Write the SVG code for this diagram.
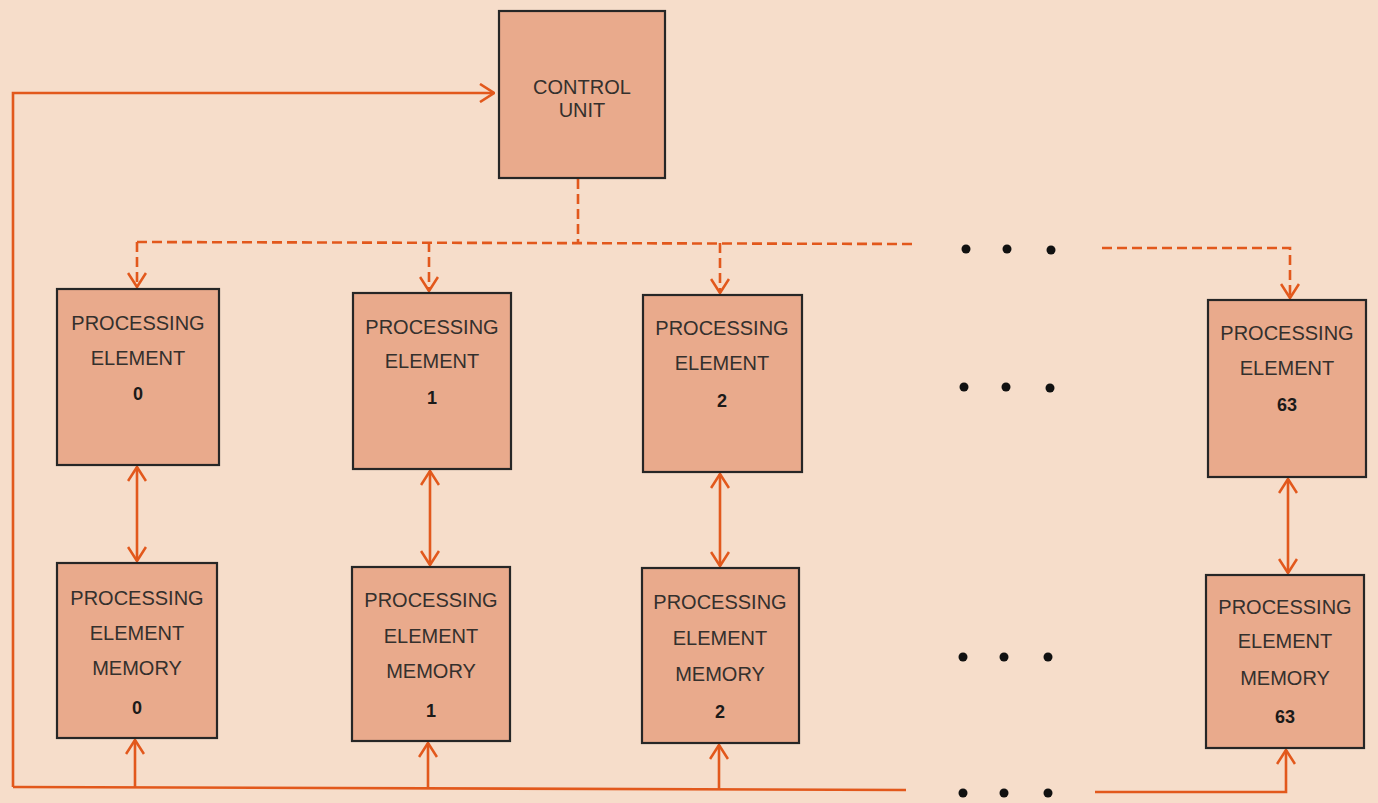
<svg xmlns="http://www.w3.org/2000/svg" width="1378" height="803" viewBox="0 0 1378 803">
<style>
.box{fill:#e9aa8c;stroke:#262626;stroke-width:2.2}
.lbl{font-family:"Liberation Sans",Arial,sans-serif;font-size:20px;fill:#34302d;text-anchor:middle}
.num{font-family:"Liberation Sans",Arial,sans-serif;font-size:18px;font-weight:bold;fill:#1c1a19;text-anchor:middle}
.ln{fill:none;stroke:#e2581c;stroke-width:2.6}
.dash{stroke-dasharray:10 5}
.dot{fill:#111}
</style>
<defs>
<marker id="ah" viewBox="0 0 16 20" refX="15" refY="10" markerWidth="16" markerHeight="20" markerUnits="userSpaceOnUse" orient="auto-start-reverse">
<path d="M1,1 L15,10 L1,19" fill="none" stroke="#e2581c" stroke-width="2.6" stroke-dasharray="none"/>
</marker>
</defs>
<rect x="0" y="0" width="1378" height="803" fill="#f6ddca"/>

<g id="connectors">
<path class="ln" d="M13,787 L13,93 L494,93" marker-end="url(#ah)"/>
<path class="ln" d="M13,787 L906,790"/>
<path class="ln" d="M1095,792 L1286,792 L1286,750" marker-end="url(#ah)"/>
<path class="ln" d="M135,787 L135,740" marker-end="url(#ah)"/>
<path class="ln" d="M428,788 L428,743" marker-end="url(#ah)"/>
<path class="ln" d="M719,789 L719,745" marker-end="url(#ah)"/>
<path class="ln" d="M137,467 L137,561" marker-start="url(#ah)" marker-end="url(#ah)"/>
<path class="ln" d="M430,471 L430,565" marker-start="url(#ah)" marker-end="url(#ah)"/>
<path class="ln" d="M720,474 L720,566" marker-start="url(#ah)" marker-end="url(#ah)"/>
<path class="ln" d="M1288,479 L1288,573" marker-start="url(#ah)" marker-end="url(#ah)"/>
<path class="ln dash" d="M578,179 L578,242"/>
<path class="ln dash" d="M137,242 L915,244"/>
<path class="ln dash" d="M137,242 L137,287" marker-end="url(#ah)"/>
<path class="ln dash" d="M429,242 L429,291" marker-end="url(#ah)"/>
<path class="ln dash" d="M720,243 L720,293" marker-end="url(#ah)"/>
<path class="ln dash" d="M1102,248 L1290,248 L1290,298" marker-end="url(#ah)"/>
</g>

<g id="dots">
<circle class="dot" cx="966" cy="249" r="4.5"/><circle class="dot" cx="1007" cy="249" r="4.5"/><circle class="dot" cx="1051" cy="250" r="4.5"/>
<circle class="dot" cx="964" cy="387" r="4.5"/><circle class="dot" cx="1006" cy="387" r="4.5"/><circle class="dot" cx="1050" cy="388" r="4.5"/>
<circle class="dot" cx="963" cy="657" r="4.5"/><circle class="dot" cx="1004" cy="657" r="4.5"/><circle class="dot" cx="1048" cy="657" r="4.5"/>
<circle class="dot" cx="963" cy="793" r="4.5"/><circle class="dot" cx="1004" cy="793" r="4.5"/><circle class="dot" cx="1048" cy="793" r="4.5"/>
</g>

<g id="control-unit">
<rect class="box" x="499" y="11" width="166" height="167"/>
<text class="lbl" x="582" y="94">CONTROL</text>
<text class="lbl" x="582" y="117">UNIT</text>
</g>

<g id="pe0">
<rect class="box" x="57" y="289" width="162" height="176"/>
<text class="lbl" x="138" y="330">PROCESSING</text>
<text class="lbl" x="138" y="365">ELEMENT</text>
<text class="num" x="138" y="400">0</text>
</g>
<g id="pem0">
<rect class="box" x="57" y="563" width="160" height="175"/>
<text class="lbl" x="137" y="605">PROCESSING</text>
<text class="lbl" x="137" y="640">ELEMENT</text>
<text class="lbl" x="137" y="675">MEMORY</text>
<text class="num" x="137" y="714">0</text>
</g>

<g id="pe1">
<rect class="box" x="353" y="293" width="158" height="176"/>
<text class="lbl" x="432" y="334">PROCESSING</text>
<text class="lbl" x="432" y="368">ELEMENT</text>
<text class="num" x="432" y="404">1</text>
</g>
<g id="pem1">
<rect class="box" x="352" y="567" width="158" height="174"/>
<text class="lbl" x="431" y="607">PROCESSING</text>
<text class="lbl" x="431" y="643">ELEMENT</text>
<text class="lbl" x="431" y="678">MEMORY</text>
<text class="num" x="431" y="717">1</text>
</g>

<g id="pe2">
<rect class="box" x="643" y="295" width="159" height="177"/>
<text class="lbl" x="722" y="335">PROCESSING</text>
<text class="lbl" x="722" y="370">ELEMENT</text>
<text class="num" x="722" y="407">2</text>
</g>
<g id="pem2">
<rect class="box" x="642" y="568" width="157" height="175"/>
<text class="lbl" x="720" y="609">PROCESSING</text>
<text class="lbl" x="720" y="645">ELEMENT</text>
<text class="lbl" x="720" y="681">MEMORY</text>
<text class="num" x="720" y="718">2</text>
</g>

<g id="pe63">
<rect class="box" x="1208" y="300" width="158" height="177"/>
<text class="lbl" x="1287" y="340">PROCESSING</text>
<text class="lbl" x="1287" y="375">ELEMENT</text>
<text class="num" x="1287" y="411">63</text>
</g>
<g id="pem63">
<rect class="box" x="1206" y="575" width="158" height="173"/>
<text class="lbl" x="1285" y="614">PROCESSING</text>
<text class="lbl" x="1285" y="648">ELEMENT</text>
<text class="lbl" x="1285" y="685">MEMORY</text>
<text class="num" x="1285" y="723">63</text>
</g>
</svg>
